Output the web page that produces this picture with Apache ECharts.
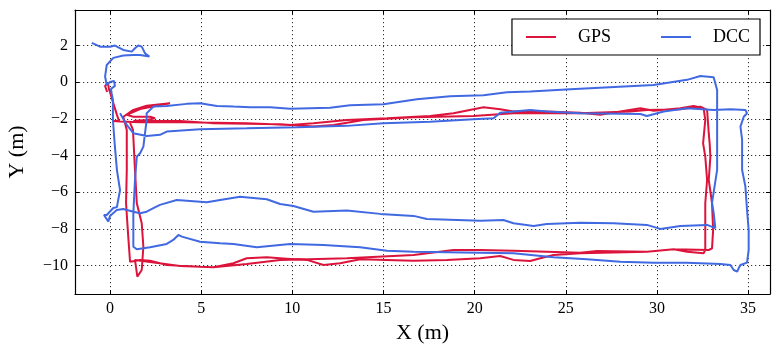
<!DOCTYPE html>
<html>
<head>
<meta charset="utf-8">
<script src="https://cdn.jsdelivr.net/npm/echarts@6/dist/echarts.min.js"></script>
<style>
html, body { margin: 0; padding: 0; background: #fff; }
#main { width: 780px; height: 355px; }
</style>
</head>
<body>
<div id="main"></div>
<script>
// 数据：轨迹点 [x, y]（米）
var seriesNames = ['GPS', 'DCC'];
var xRange = [-1.92, 36.2];
var yRange = [-11.55, 3.94];
var xStep = 5, yStep = 2;

var gpsPath = [
    [-0.16,-0.53],[-0.27,-0.20],[-0.11,-0.04],[-0.05,-0.42],[0.00,-0.53],[0.16,-1.07],[0.38,-1.78],[0.49,-2.11],[0.16,-2.11],[0.55,-2.14],
    [1.65,-2.18],[3.29,-2.17],[4.94,-2.20],[7.50,-2.24],[9.88,-2.33],[11.16,-2.24],[12.99,-2.06],[15.19,-1.96],[17.56,-1.84],[18.84,-1.69],
    [19.94,-1.47],[20.49,-1.36],[21.40,-1.47],[22.13,-1.60],[23.96,-1.60],[25.79,-1.66],[26.89,-1.78],[27.99,-1.60],[29.09,-1.42],[29.82,-1.55],
    [31.28,-1.42],[32.01,-1.29],[32.56,-1.42],
    [32.65,-2.06],[32.53,-3.33],[32.65,-4.06],[32.75,-5.33],[32.65,-6.60],[32.65,-9.15],[32.56,-9.33],
    [31.65,-9.24],[30.92,-9.11],[29.45,-9.24],[25.79,-9.33],[24.33,-9.42],[23.60,-9.60],[23.05,-9.75],[22.13,-9.69],[21.40,-9.48],[20.31,-9.60],
    [18.48,-9.69],[16.65,-9.73],[13.72,-9.66],[12.62,-9.87],[11.71,-9.97],[10.80,-9.69],[10.06,-9.66],[8.60,-9.55],[7.50,-9.60],[6.77,-9.87],
    [5.67,-10.09],[4.94,-10.06],[3.11,-9.97],[2.20,-9.73],[1.65,-9.69],[1.10,-9.79],
    [1.00,-8.42],[0.88,-6.60],[0.92,-4.78],[0.92,-2.60],[0.82,-2.22],
    [0.73,-1.88],[1.28,-1.51],[2.01,-1.28],[3.29,-1.15],[2.56,-1.28],[1.65,-1.46],[0.92,-1.78],[1.28,-1.88],[2.20,-1.88],[2.47,-1.96],[2.01,-2.06],[1.28,-2.11],
    [3.84,-2.11],[5.67,-2.24],[9.33,-2.29],[11.16,-2.42],[12.26,-2.33],[13.90,-2.06],[16.65,-1.91],[19.94,-1.84],[22.13,-1.69],[25.79,-1.69],
    [28.54,-1.60],[29.45,-1.51],[31.28,-1.47],[32.38,-1.33],[32.75,-1.51],
    [32.84,-2.78],[32.89,-3.33],[32.93,-4.06],[32.84,-5.33],[33.02,-6.60],[33.08,-8.06],[33.02,-9.06],[32.84,-9.15],
    [30.92,-9.11],[29.45,-9.24],[26.71,-9.20],[25.79,-9.30],[23.96,-9.24],[22.13,-9.19],[20.31,-9.15],[18.84,-9.15],[16.65,-9.42],[12.99,-9.60],
    [9.33,-9.69],[7.50,-9.91],[5.67,-10.09],[3.84,-10.02],[2.20,-9.80],[1.37,-9.69],
    [1.50,-10.60],[1.74,-10.24],[1.83,-8.97],[1.74,-7.69],[1.47,-6.60],[1.37,-4.78],[1.26,-2.60],[1.10,-2.22]
];

var dccPath = [
    [-1.00,2.15],[-0.55,1.94],[0.00,1.94],[0.27,2.00],[0.73,1.76],[1.19,1.67],[1.37,1.85],[1.55,2.00],[1.74,1.94],[1.92,1.58],[2.16,1.40],
    [1.65,1.49],[1.28,1.49],[0.73,1.46],[0.18,1.33],[-0.18,0.94],[-0.27,0.31],[-0.18,-0.15],
    [0.00,0.02],[0.22,0.07],[0.27,-0.20],[0.05,-0.37],[0.09,-0.60],[0.16,-0.97],[0.16,-2.06],[0.27,-3.53],[0.38,-4.79],[0.55,-5.88],[0.38,-6.81],
    [0.18,-6.86],[-0.18,-7.24],[-0.33,-7.24],[-0.09,-7.60],[0.00,-7.29],[0.37,-6.97],[0.73,-6.91],[1.28,-7.06],[1.65,-7.15],[2.01,-7.06],
    [2.38,-6.87],[2.74,-6.69],[3.66,-6.42],[5.31,-6.55],[6.04,-6.42],[7.13,-6.24],[8.60,-6.38],[9.33,-6.64],[10.06,-6.75],[11.16,-7.06],
    [12.99,-7.00],[14.82,-7.18],[16.65,-7.29],[17.38,-7.46],[20.31,-7.55],[21.58,-7.51],[22.13,-7.69],[23.23,-7.84],[23.96,-7.73],[25.79,-7.66],
    [27.62,-7.69],[29.45,-7.78],[30.18,-8.00],[31.28,-7.84],[32.75,-7.78],[33.20,-7.96],
    [33.11,-7.13],[33.02,-6.58],[33.30,-4.78],[33.30,-2.06],[33.30,-0.42],[33.11,0.27],
    [32.38,0.34],[31.65,0.13],[29.82,-0.15],[25.25,-0.38],[23.05,-0.51],[21.77,-0.55],[20.49,-0.71],[18.66,-0.76],[16.83,-0.93],[15.00,-1.20],
    [13.17,-1.25],[12.07,-1.39],[9.88,-1.44],[8.78,-1.36],[7.68,-1.36],[6.77,-1.33],[5.86,-1.29],[4.94,-1.15],[4.21,-1.18],[3.11,-1.29],
    [2.38,-1.33],[2.01,-1.69],
    [2.01,-2.06],[1.92,-2.78],[1.83,-3.51],[1.65,-3.87],[1.47,-4.06],[1.37,-5.33],[1.28,-7.15],[1.28,-8.97],[1.47,-9.11],
    [2.20,-9.00],[3.11,-8.82],[3.47,-8.60],[3.75,-8.33],[3.94,-8.42],[4.94,-8.70],[6.04,-8.78],[6.77,-8.82],[8.05,-9.00],[9.88,-8.82],
    [11.71,-8.88],[13.72,-9.00],[15.19,-9.19],[16.65,-9.24],[20.31,-9.30],[22.13,-9.33],[24.33,-9.55],[26.16,-9.66],[27.99,-9.79],[29.82,-9.84],
    [31.65,-9.84],[33.48,-9.91],[34.03,-9.97],[34.21,-10.24],[34.40,-10.33],[34.48,-10.15],[34.58,-9.97],[34.94,-9.84],
    [35.03,-9.15],[35.03,-8.06],[34.94,-6.97],[34.85,-5.69],[34.67,-4.78],[34.67,-3.15],[34.58,-2.42],[34.76,-1.88],[34.94,-1.69],[34.85,-1.51],
    [34.03,-1.47],[33.11,-1.51],[31.65,-1.42],[30.37,-1.60],[29.45,-1.84],[29.09,-1.73],[25.79,-1.69],[23.96,-1.60],[23.05,-1.51],[21.40,-1.66],
    [21.04,-1.96],[19.94,-2.02],[17.56,-2.15],[15.00,-2.24],[12.99,-2.38],[10.25,-2.45],[7.50,-2.51],[4.94,-2.56],[3.11,-2.69],[2.74,-2.87],
    [2.01,-2.93],[1.28,-2.78],[0.92,-2.33],[0.55,-1.69]
];

var seriesColors = ['#dc143c', '#4169e1'];
var fontFamily = "'Liberation Serif', 'Times New Roman', serif";

// 只显示整步长的刻度，负号用 −
function tickLabel(step) {
    return function (v) {
        var k = Math.round(v / step);
        if (Math.abs(v - k * step) > 1e-6) return '';
        return String(k * step).replace('-', '\u2212');
    };
}

function makeAxis(range, step, pos, showLabel) {
    return {
        type: 'value',
        position: pos,
        min: range[0],
        max: range[1],
        splitNumber: 8,
        minInterval: step,
        maxInterval: step,
        axisLine: { onZero: false, lineStyle: { color: '#000', width: 1.2 } },
        axisTick: { inside: true, length: 4, lineStyle: { color: '#000', width: 1 } },
        axisLabel: {
            show: showLabel,
            color: '#000',
            fontFamily: fontFamily,
            fontSize: 16,
            margin: 7,
            formatter: tickLabel(step)
        },
        splitLine: {
            show: showLabel,
            lineStyle: { color: '#000', width: 0.8, type: [1.2, 2.8] }
        }
    };
}

var xMain = makeAxis(xRange, xStep, 'bottom', true);
xMain.name = 'X (m)';
xMain.nameLocation = 'middle';
xMain.nameGap = 24;
xMain.nameTextStyle = { color: '#000', fontFamily: fontFamily, fontSize: 22 };

var yMain = makeAxis(yRange, yStep, 'left', true);
yMain.name = 'Y (m)';
yMain.nameLocation = 'middle';
yMain.nameGap = 47;
yMain.nameTextStyle = { color: '#000', fontFamily: fontFamily, fontSize: 22 };

var chart = echarts.init(document.getElementById('main'));
var option = {
    animation: false,
    backgroundColor: '#fff',
    grid: { left: 75, right: 10, top: 10, bottom: 61, outerBoundsMode: 'none' },
    legend: {
        data: seriesNames,
        right: 20,
        top: 19,
        icon: 'rect',
        itemWidth: 30,
        itemHeight: 2,
        itemGap: 50,
        padding: [9, 10, 9, 14],
        borderColor: '#000',
        borderWidth: 1.2,
        backgroundColor: '#fff',
        textStyle: { color: '#000', fontFamily: fontFamily, fontSize: 18, padding: [0, 0, 0, 17] }
    },
    xAxis: [xMain, makeAxis(xRange, xStep, 'top', false)],
    yAxis: [yMain, makeAxis(yRange, yStep, 'right', false)],
    series: [
        {
            name: seriesNames[0],
            type: 'line',
            data: gpsPath,
            symbol: 'none',
            color: seriesColors[0],
            lineStyle: { color: seriesColors[0], width: 2 }
        },
        {
            name: seriesNames[1],
            type: 'line',
            data: dccPath,
            symbol: 'none',
            color: seriesColors[1],
            lineStyle: { color: seriesColors[1], width: 2 }
        }
    ]
};
chart.setOption(option);
</script>
</body>
</html>
